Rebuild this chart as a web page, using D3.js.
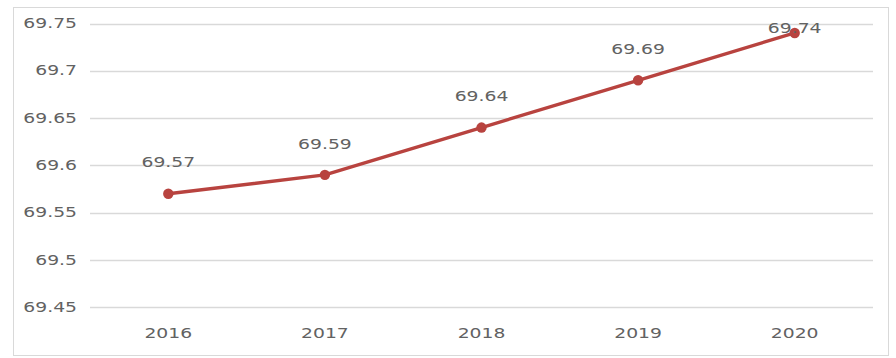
<!DOCTYPE html>
<html>
<head>
<meta charset="utf-8">
<script src="https://cdn.jsdelivr.net/npm/d3@7"></script>
<style>
  html, body { margin: 0; padding: 0; background: #fff; }
  svg { display: block; }
  text { font-family: "DejaVu Sans", sans-serif; fill: #626262; }
</style>
</head>
<body>
<svg id="chart" width="896" height="358"></svg>
<script>
// Data
const years = ["2016", "2017", "2018", "2019", "2020"];
const values = [69.57, 69.59, 69.64, 69.69, 69.74];
const yTicks = [69.45, 69.5, 69.55, 69.6, 69.65, 69.7, 69.75];

const W = 896, H = 358;
const plot = { left: 90, right: 873, top: 23.5, bottom: 307.3 };
const lineColor = "#b8433f";
const stretch = 1.34;   // horizontal widening applied to all labels

const svg = d3.select("#chart");

// outer chart frame
svg.append("rect")
  .attr("x", 13.5).attr("y", 7.5)
  .attr("width", 875).attr("height", 348)
  .attr("fill", "none").attr("stroke", "#d9d9d9").attr("stroke-width", 1);

const x = d3.scaleBand().domain(years).range([plot.left, plot.right]);
const y = d3.scaleLinear().domain([69.45, 69.75]).range([plot.bottom, plot.top]);

// horizontal gridlines
svg.append("g").selectAll("line")
  .data(yTicks).join("line")
  .attr("x1", plot.left).attr("x2", plot.right)
  .attr("y1", d => Math.round(y(d)) + 0.5).attr("y2", d => Math.round(y(d)) + 0.5)
  .attr("stroke", "#d9d9d9").attr("stroke-width", 1.3);

// y axis labels
const fmt = d => d3.format(".2f")(d).replace(/0$/, "");
svg.append("g").selectAll("text")
  .data(yTicks).join("text")
  .attr("transform", d => `translate(77,${y(d)}) scale(${stretch},1)`)
  .attr("text-anchor", "end")
  .attr("dominant-baseline", "central")
  .attr("font-size", 14)
  .text(fmt);

// x axis labels
svg.append("g").selectAll("text")
  .data(years).join("text")
  .attr("transform", d => `translate(${x(d) + x.bandwidth() / 2},${plot.bottom + 26}) scale(${stretch},1)`)
  .attr("text-anchor", "middle")
  .attr("dominant-baseline", "central")
  .attr("font-size", 14)
  .text(d => d);

const pts = years.map((yr, i) => ({ yr, v: values[i] }));
const cx = d => x(d.yr) + x.bandwidth() / 2;

// series line
svg.append("path")
  .datum(pts)
  .attr("fill", "none")
  .attr("stroke", lineColor)
  .attr("stroke-width", 3.4)
  .attr("stroke-linejoin", "round")
  .attr("d", d3.line().x(cx).y(d => y(d.v)));

// markers
svg.append("g").selectAll("circle")
  .data(pts).join("circle")
  .attr("cx", cx).attr("cy", d => y(d.v))
  .attr("r", 5.2)
  .attr("fill", lineColor);

// data labels, kept inside the plot area
svg.append("g").selectAll("text")
  .data(pts).join("text")
  .attr("transform", d => `translate(${cx(d)},${Math.max(y(d.v) - 31, plot.top + 5)}) scale(${stretch},1)`)
  .attr("text-anchor", "middle")
  .attr("dominant-baseline", "central")
  .attr("font-size", 14)
  .text(d => d3.format(".2f")(d.v));
</script>
</body>
</html>
